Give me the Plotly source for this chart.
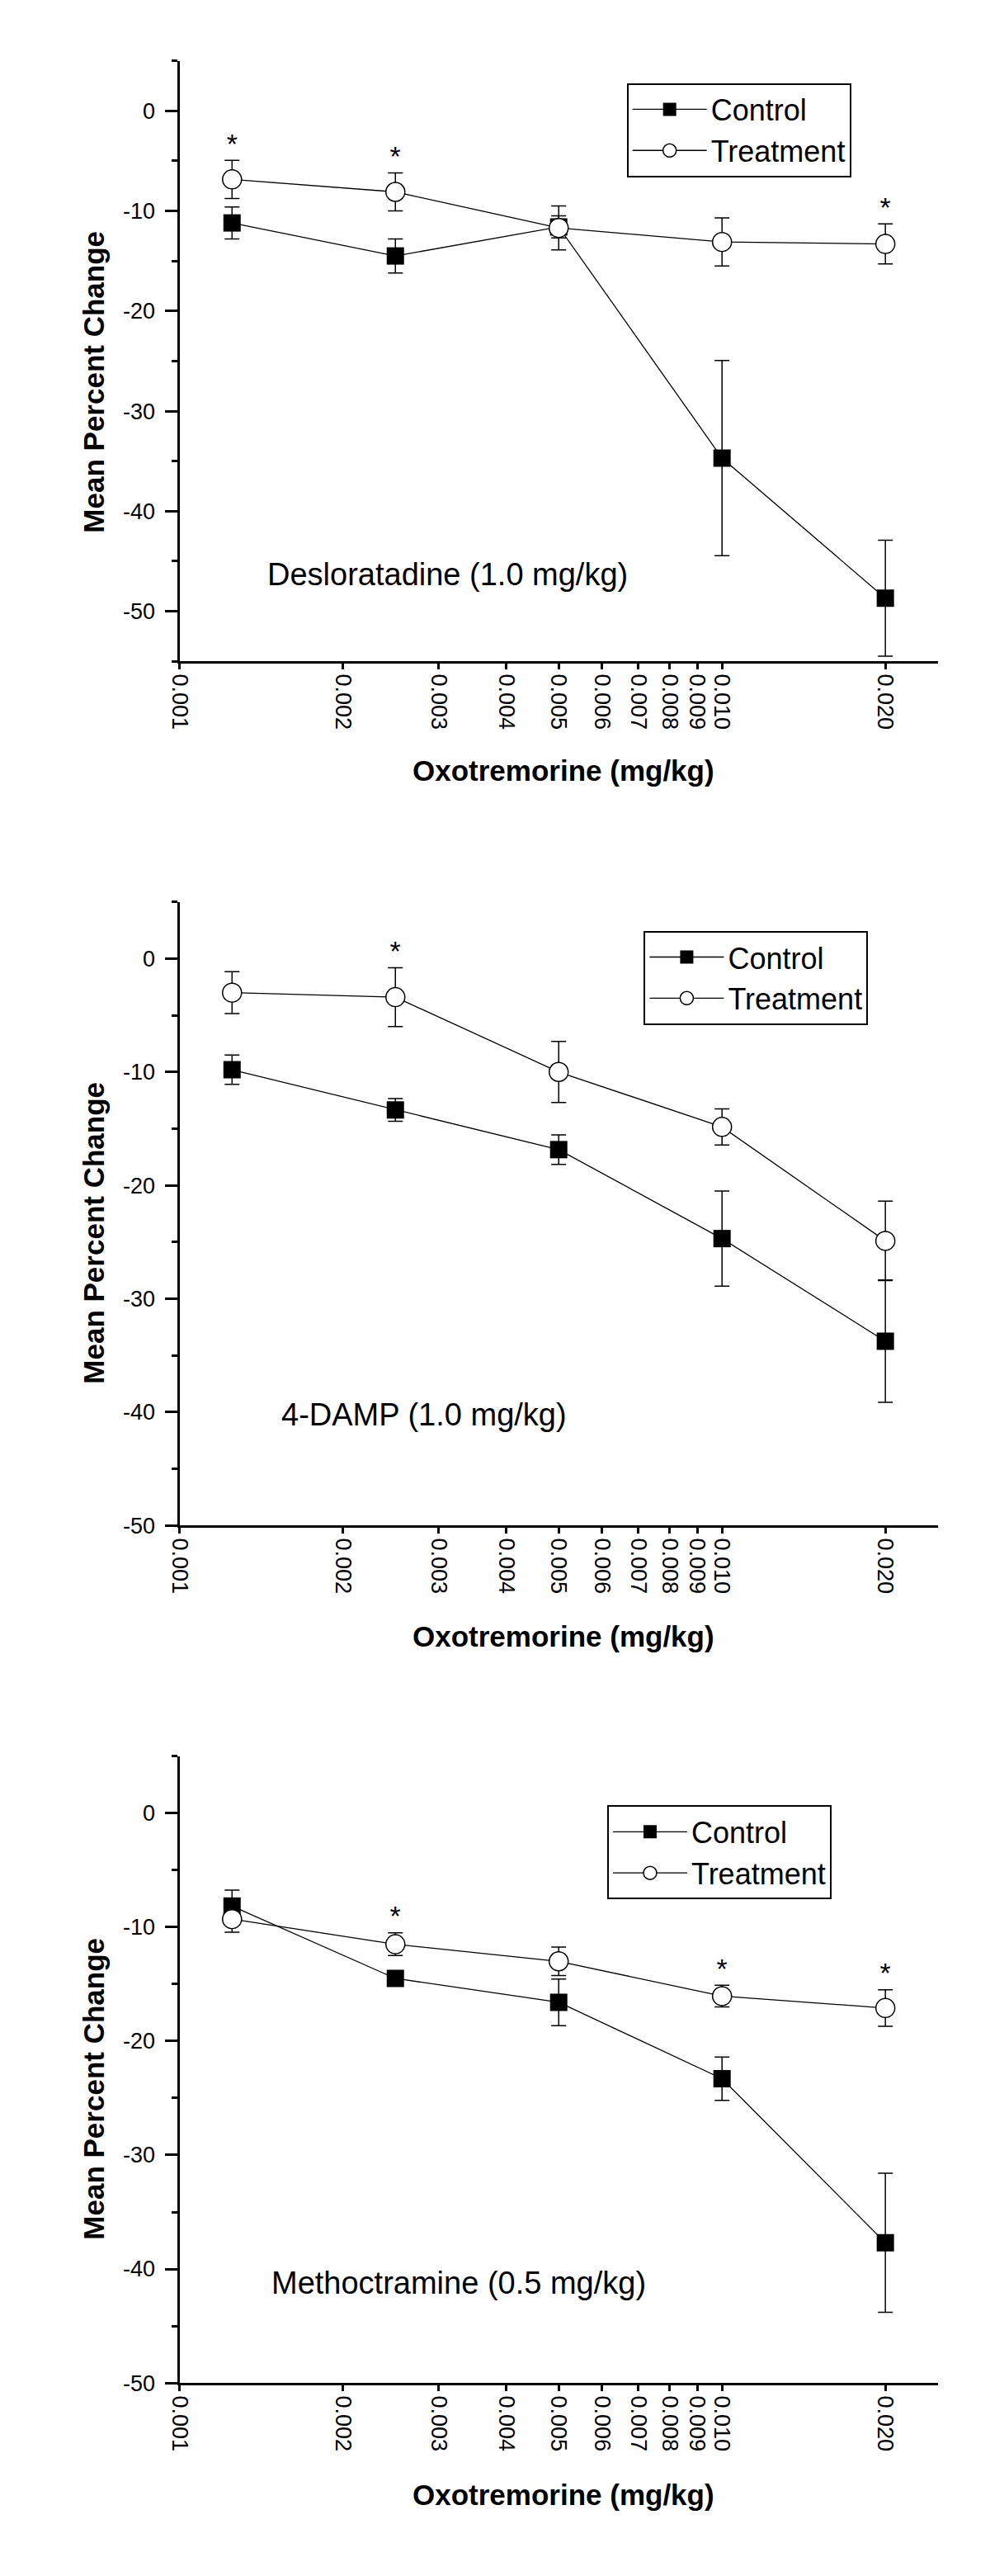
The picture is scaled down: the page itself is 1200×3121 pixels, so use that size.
import numpy as np
import plotly.graph_objects as go

# ---------------- data ----------------
dose = [0.00125, 0.0025, 0.005, 0.01, 0.02]
tick_vals = [0.001, 0.002, 0.003, 0.004, 0.005, 0.006, 0.007, 0.008, 0.009, 0.010, 0.020]
tick_text = ["0.001", "0.002", "0.003", "0.004", "0.005", "0.006", "0.007",
             "0.008", "0.009", "0.010", "0.020"]
major_x = [0.001, 0.010]
y_tick_vals = [0, -10, -20, -30, -40, -50]
y_tick_text = ["0", "-10", "-20", "-30", "-40", "-50"]

series_names = ["Control", "Treatment"]
panel_labels = ["Desloratadine (1.0 mg/kg)", "4-DAMP (1.0 mg/kg)", "Methoctramine (0.5 mg/kg)"]

# Panel 1: Desloratadine
ctrl_1 = [-11.2, -14.5, -11.6, -34.7, -48.7]
ctrl_err_1 = [1.6, 1.7, 1.1, 9.75, 5.8]
treat_1 = [-6.85, -8.1, -11.7, -13.1, -13.3]
treat_err_1 = [1.9, 1.9, 2.2, 2.4, 2.0]
sig_1 = [0, 1, 4]

# Panel 2: 4-DAMP
ctrl_2 = [-9.8, -13.35, -16.85, -24.7, -33.75]
ctrl_err_2 = [1.3, 1.0, 1.3, 4.2, 5.4]
treat_2 = [-3.0, -3.4, -10.0, -14.85, -24.9]
treat_err_2 = [1.85, 2.6, 2.7, 1.6, 3.5]
sig_2 = [1]

# Panel 3: Methoctramine
ctrl_3 = [-8.15, -14.5, -16.6, -23.3, -37.7]
ctrl_err_3 = [1.4, 0.5, 2.05, 1.9, 6.1]
treat_3 = [-9.3, -11.5, -13.0, -16.05, -17.1]
treat_err_3 = [1.15, 1.0, 1.25, 0.95, 1.6]
sig_3 = [1, 3, 4]

y_ranges = [[-55, 5], [-50, 5], [-50, 5]]
label_y = [-46.3, -40.2, -41.2]

# ---------------- layout constants (pixels) ----------------
W, H = 1200, 3121
FONT = "Arial, 'Liberation Sans', sans-serif"
x_left, x_right = 197, 1128
panel_px = [(66, 797), (1090, 1849), (2130, 2893)]  # (top, bottom)
legend_px = [(746, 93), (767, 1125), (722, 2190)]
label_x_px = [303, 320, 308]
ytitle_px = [457, 1493, 2535]
xtitle_px = [930, 1984, 3029]

panels = [
    (ctrl_1, ctrl_err_1, treat_1, treat_err_1, sig_1),
    (ctrl_2, ctrl_err_2, treat_2, treat_err_2, sig_2),
    (ctrl_3, ctrl_err_3, treat_3, treat_err_3, sig_3),
]

fig = go.Figure()
annotations = []
log_lo, log_hi = np.log10(0.001), np.log10(0.025)

for i, (c, ce, t, te, sig) in enumerate(panels):
    n = i + 1
    xa = "x" if n == 1 else f"x{n}"
    ya = "y" if n == 1 else f"y{n}"
    leg = "legend" if n == 1 else f"legend{n}"
    err_style = dict(type="data", thickness=1.5, width=9, color="black")

    fig.add_trace(go.Scatter(
        x=dose, y=c, name=series_names[0], mode="lines+markers",
        line=dict(color="black", width=1.3),
        marker=dict(symbol="square", size=21, color="black"),
        error_y=dict(array=ce, **err_style),
        xaxis=xa, yaxis=ya, legend=leg, showlegend=True,
    ))
    fig.add_trace(go.Scatter(
        x=dose, y=t, name=series_names[1], mode="lines+markers",
        line=dict(color="black", width=1.3),
        marker=dict(symbol="circle", size=23, color="white",
                    line=dict(color="black", width=1.5)),
        error_y=dict(array=te, **err_style),
        xaxis=xa, yaxis=ya, legend=leg, showlegend=True,
    ))
    # significance stars
    star_x = [dose[k] for k in sig]
    star_y = [max(c[k] + ce[k], t[k] + te[k]) for k in sig]
    fig.add_trace(go.Scatter(
        x=star_x, y=star_y, mode="text", text=["*"] * len(sig),
        textposition="top center",
        textfont=dict(family=FONT, size=34, color="black"),
        xaxis=xa, yaxis=ya, showlegend=False, hoverinfo="skip",
    ))

    top, bot = panel_px[i]
    ydom = [1 - bot / H, 1 - top / H]
    xdom = [x_left / W, x_right / W]
    axis_common = dict(showgrid=False, zeroline=False, showline=True,
                       linecolor="black", linewidth=3, ticks="outside",
                       tickcolor="black", tickwidth=2.5,
                       tickfont=dict(family=FONT, size=27, color="black"))
    fig.update_layout(**{
        ("xaxis" if n == 1 else f"xaxis{n}"): dict(
            type="log", range=[log_lo, log_hi], domain=xdom, anchor=ya,
            tickmode="array", tickvals=tick_vals, ticktext=tick_text,
            tickangle=90, ticklen=7, **axis_common),
        ("yaxis" if n == 1 else f"yaxis{n}"): dict(
            range=y_ranges[i], domain=ydom, anchor=xa,
            tickmode="array", tickvals=y_tick_vals, ticktext=y_tick_text,
            ticklen=15, ticklabelstandoff=6,
            minor=dict(dtick=5, tick0=0, ticklen=7, ticks="outside",
                       tickcolor="black", tickwidth=2.5, showgrid=False),
            **axis_common),
        # overlay axis for the long (decade) ticks on x
        f"xaxis{n + 3}": dict(
            type="log", range=[log_lo, log_hi], domain=xdom, anchor=ya,
            overlaying=xa, side="bottom", tickmode="array", tickvals=major_x,
            showticklabels=False, ticks="outside", ticklen=15, tickwidth=2.5,
            tickcolor="black", showline=False, showgrid=False, zeroline=False),
        leg: dict(
            x=legend_px[i][0] / W, y=1 - legend_px[i][1] / H,
            xanchor="left", yanchor="top", bgcolor="white",
            bordercolor="black", borderwidth=2, itemwidth=90,
            font=dict(family=FONT, size=36, color="black"),
            tracegroupgap=0),
    })

    annotations.append(dict(
        text=panel_labels[i], xref="paper", x=label_x_px[i] / W, xanchor="left",
        yref=ya, y=label_y[i], yanchor="middle", showarrow=False,
        font=dict(family=FONT, size=38, color="black")))
    annotations.append(dict(
        text="<b>Mean Percent Change</b>", xref="paper", x=92 / W,
        yref="paper", y=1 - ytitle_px[i] / H, textangle=-90, showarrow=False,
        xanchor="center", yanchor="middle",
        font=dict(family=FONT, size=35, color="black")))
    annotations.append(dict(
        text="<b>Oxotremorine (mg/kg)</b>", xref="paper", x=668 / W,
        yref="paper", y=1 - xtitle_px[i] / H, showarrow=False,
        xanchor="center", yanchor="middle",
        font=dict(family=FONT, size=35, color="black")))

fig.update_layout(
    width=W, height=H, margin=dict(l=0, r=0, t=0, b=0),
    paper_bgcolor="white", plot_bgcolor="white",
    annotations=annotations, font=dict(family=FONT, color="black"),
)

fig.write_html("out.html")
